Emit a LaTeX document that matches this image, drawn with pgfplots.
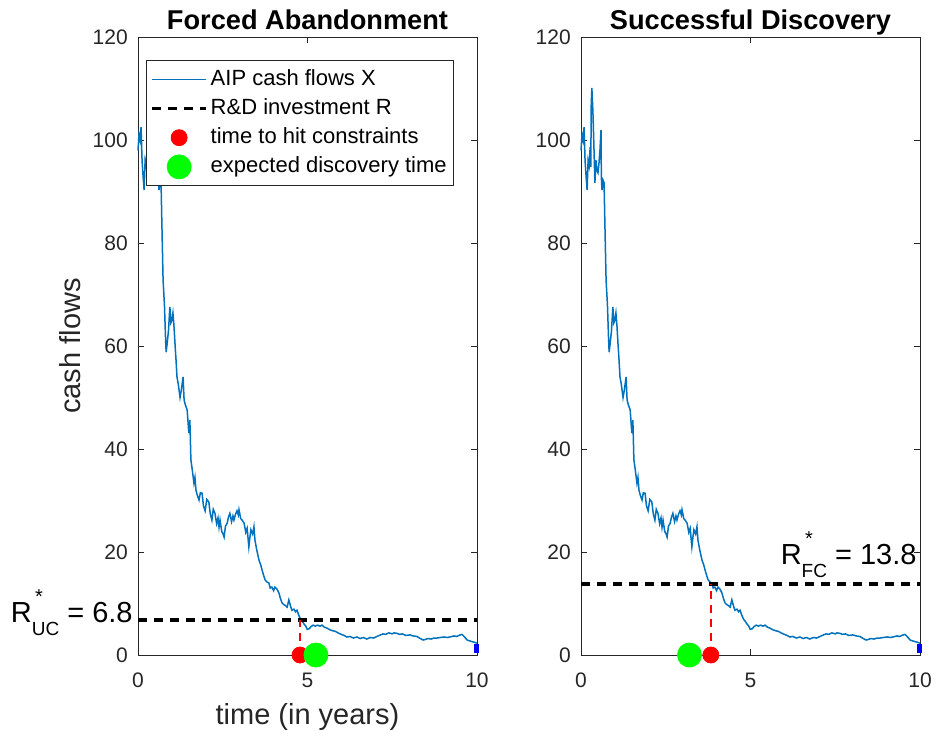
\documentclass[border=0pt]{standalone}
\usepackage{fontspec}
\setmainfont{Liberation Sans}
\usepackage{pgfplots}
\usepackage{pgfplotstable}
\pgfplotsset{compat=1.18}

\definecolor{mblue}{rgb}{0,0.447,0.741}
\definecolor{axgray}{rgb}{0.15,0.15,0.15}

\pgfplotstableread{
x y
0.00 98.0
0.03 101.0
0.06 100.0
0.09 102.5
0.12 96.0
0.15 93.0
0.18 90.3
0.21 96.0
0.24 95.0
0.27 98.6
0.29 94.8
0.30 106.4
0.32 110.1
0.35 105.8
0.38 99.0
0.41 91.7
0.44 96.1
0.47 94.0
0.50 93.6
0.53 95.5
0.56 98.1
0.59 101.9
0.60 92.8
0.62 90.3
0.65 92.2
0.68 91.7
0.71 82.0
0.74 72.8
0.78 68.0
0.81 62.0
0.83 58.8
0.86 60.5
0.90 63.0
0.94 67.6
0.97 64.5
1.00 65.0
1.03 66.4
1.06 64.0
1.09 60.6
1.12 57.5
1.15 54.0
1.19 52.5
1.24 50.0
1.28 51.5
1.33 54.0
1.36 49.5
1.40 48.5
1.45 47.6
1.50 43.1
1.53 45.6
1.56 37.9
1.60 36.0
1.65 33.4
1.68 34.5
1.71 32.0
1.75 31.0
1.80 30.1
1.84 31.5
1.89 31.4
1.93 29.0
1.98 28.0
2.03 30.2
2.09 29.7
2.13 27.5
2.18 26.2
2.22 28.3
2.27 27.5
2.32 25.5
2.36 26.6
2.39 24.8
2.42 26.2
2.47 24.0
2.51 23.5
2.54 22.9
2.58 25.0
2.63 25.6
2.67 26.8
2.71 27.5
2.76 25.9
2.80 27.0
2.83 26.2
2.88 27.4
2.92 28.0
2.96 27.2
2.98 28.2
3.03 26.5
3.07 26.2
3.13 25.6
3.18 23.8
3.22 24.6
3.27 21.0
3.30 22.8
3.33 24.3
3.38 23.5
3.42 24.9
3.45 22.3
3.50 20.5
3.57 18.4
3.62 17.5
3.66 16.5
3.70 15.6
3.75 14.6
3.80 14.2
3.86 14.0
3.90 13.0
3.95 13.2
4.00 12.5
4.04 13.2
4.10 12.8
4.16 12.0
4.20 11.0
4.25 10.1
4.30 9.8
4.35 9.6
4.40 9.3
4.45 10.7
4.50 9.5
4.54 8.7
4.60 8.9
4.65 8.4
4.69 8.7
4.75 7.6
4.80 6.9
4.84 6.6
4.90 6.0
4.95 5.6
4.99 5.0
5.05 5.1
5.10 5.5
5.17 5.8
5.23 5.6
5.30 5.8
5.37 5.6
5.43 5.8
5.50 5.4
5.58 5.2
5.66 4.9
5.75 4.7
5.82 4.6
5.90 4.3
6.00 4.0
6.08 3.8
6.16 3.5
6.25 3.6
6.35 3.3
6.46 3.5
6.55 3.2
6.65 3.4
6.75 3.1
6.85 3.4
6.95 3.3
7.05 3.6
7.15 3.9
7.23 4.1
7.30 4.0
7.40 4.3
7.50 4.1
7.55 4.3
7.64 4.2
7.72 4.0
7.80 4.1
7.90 3.8
8.02 3.9
8.12 3.7
8.23 3.6
8.30 3.3
8.41 2.9
8.47 3.0
8.55 3.2
8.65 3.1
8.73 3.3
8.82 3.3
8.92 3.4
9.03 3.5
9.12 3.4
9.20 3.5
9.32 3.7
9.40 3.6
9.50 3.9
9.56 4.0
9.62 3.6
9.71 2.9
9.80 2.7
9.91 2.5
10.00 2.3
}\pathdata

\pgfplotsset{
  mstyle/.style={
    scale only axis, width=169.5pt, height=309pt,
    xmin=0, xmax=10, ymin=0, ymax=120,
    xtick={0,5,10}, ytick={0,20,...,120},
    tick align=inside, major tick length=3pt,
    axis line style={axgray, line width=0.4pt},
    every tick/.style={axgray, line width=0.4pt},
    tick label style={font=\fontsize{10.5}{12.5}\selectfont, text=axgray},
    /pgf/number format/assume math mode=true,
    xticklabel style={anchor=base, yshift=-16pt},
    yticklabel style={xshift=-1.6pt},
    every axis title shift=0pt,
    title style={font=\fontsize{13.6}{16}\selectfont\bfseries, at={(0.5,1)}, anchor=base, yshift=4pt},
    clip=false,
    legend image code/.code={\draw[#1] (0pt,0pt) -- (27pt,0pt);},
  },
  markleg/.style={legend image code/.code={\draw[##1,only marks] plot coordinates {(13.5pt,0pt)};}},
}

\begin{document}
\begin{tikzpicture}
\useasboundingbox (-69pt,-40.5pt) rectangle (399.5pt,327.5pt);
\begin{axis}[mstyle,
  title={Forced Abandonment},
  xlabel={time (in years)},
  ylabel={cash flows},
  xlabel style={font=\fontsize{14.5}{17}\selectfont, text=axgray, at={(axis description cs:0.5,0)}, anchor=base, yshift=-34.5pt},
  ylabel style={font=\fontsize{14.5}{17}\selectfont, text=axgray, at={(axis description cs:-0.171,0.5)}, anchor=base},
  legend style={at={(0.024,0.963)}, anchor=north west, draw=axgray,
    font=\fontsize{11}{12.5}\selectfont, inner xsep=2pt, inner ysep=2.2pt, row sep=0pt,
    nodes={text height=8.4pt, text depth=2.6pt, inner ysep=1.8pt, inner xsep=1.5pt}},
  legend cell align=left,
]
\addplot[mblue, line width=0.75pt] table {\pathdata};
\addlegendentry{AIP cash flows X}
\addplot[black, line width=1.6pt, dash pattern=on 4.5pt off 3.5pt] coordinates {(0,6.8) (10,6.8)};
\addlegendentry{R\&D investment R}
\addplot[red, line width=1pt, dash pattern=on 4pt off 3pt, forget plot] coordinates {(4.78,0) (4.78,6.8)};
\addplot[only marks, mark=*, red, mark size=4pt, markleg] coordinates {(4.78,0)};
\addlegendentry{time to hit constraints}
\addplot[only marks, mark=*, green, mark size=6pt, markleg] coordinates {(5.25,0)};
\addlegendentry{expected discovery time}
\addplot[blue, line width=2.5pt, forget plot] coordinates {(9.98,0.3) (9.98,2.2)};
\node[anchor=base east, font=\fontsize{14.5}{17}\selectfont, inner sep=0pt, xshift=-2.5pt] at (axis cs:0,6.4)
  {R\rlap{\raisebox{9.5pt}{\fontsize{10}{10}\selectfont\,*}}\raisebox{-6.5pt}{\fontsize{9.5}{9.5}\selectfont UC} = 6.8};
\end{axis}

\begin{axis}[mstyle, at={(221.5pt,0pt)}, anchor=south west,
  title={Successful Discovery},
]
\addplot[mblue, line width=0.75pt] table {\pathdata};
\addplot[black, line width=1.6pt, dash pattern=on 4.5pt off 3.5pt] coordinates {(0,13.8) (10,13.8)};
\addplot[red, line width=1pt, dash pattern=on 4pt off 3pt] coordinates {(3.83,0) (3.83,13.8)};
\addplot[only marks, mark=*, green, mark size=6pt] coordinates {(3.2,0)};
\addplot[only marks, mark=*, red, mark size=4pt] coordinates {(3.83,0)};
\addplot[blue, line width=2.5pt] coordinates {(9.98,0.3) (9.98,2.2)};
\node[anchor=base east, font=\fontsize{14.5}{17}\selectfont, inner sep=0pt] at (axis cs:9.91,17.5)
  {R\rlap{\raisebox{9.5pt}{\fontsize{10}{10}\selectfont\,*}}\raisebox{-6.5pt}{\fontsize{9.5}{9.5}\selectfont FC} = 13.8};
\end{axis}
\end{tikzpicture}
\end{document}
